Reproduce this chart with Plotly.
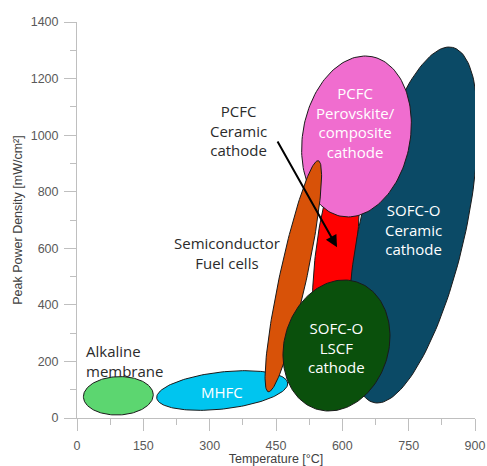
import numpy as np
import plotly.graph_objects as go

# ---- data (temperature °C, peak power density mW/cm²) ----
regions = ["PCFC Ceramic cathode", "SOFC-O Ceramic cathode", "MHFC",
           "PCFC Perovskite/composite cathode", "Semiconductor Fuel cells",
           "SOFC-O LSCF cathode", "Alkaline membrane"]
# major-axis end points of each region
T_start = [556.3, 671.6, 180.2, 597.0, 432.6, 541.3, 14.5]
P_start = [240.3, 54.4, 70.7, 713.1, 92.6, 31.5, 74.0]
T_end = [615.1, 849.0, 476.5, 667.0, 545.7, 632.2, 172.5]
P_end = [947.1, 1310.2, 123.7, 1277.4, 909.7, 481.2, 83.0]
# half width of each region (°C equivalent)
half_width = [45.0, 119.2, 41.8, 121.2, 30.5, 117.6, 43.4]
colors = ["#FF0000", "#0B4A66", "#00C5EF", "#F06DCF", "#D85208", "#0A500C", "#5CD670"]

x_ticks = [0, 150, 300, 450, 600, 750, 900]
y_ticks = [0, 200, 400, 600, 800, 1000, 1200, 1400]

# labels
label_text = ["Alkaline<br>membrane", "MHFC", "PCFC<br>Ceramic<br>cathode",
              "Semiconductor<br>Fuel cells", "PCFC<br>Perovskite/<br>composite<br>cathode",
              "SOFC-O<br>Ceramic<br>cathode", "SOFC-O<br>LSCF<br>cathode"]
label_T = [15.8, 327.9, 364.1, 339.7, 630.0, 759.8, 585.7]
label_P = [201.5, 91.9, 1015.4, 584.0, 1043.0, 664.7, 251.0]
label_color = ["#2b2b2b", "white", "#2b2b2b", "#2b2b2b", "white", "white", "white"]
label_anchor = ["left", "center", "center", "center", "center", "center", "center"]

arrow_from = (451.6, 982.8)
arrow_to = (588.0, 603.5)

# ---- layout geometry ----
W, H = 487, 466
ML, MR, MT, MB = 77, 12, 22, 48
plot_w, plot_h = W - ML - MR, H - MT - MB
T_RANGE, P_RANGE = 900.0, 1400.0
k = (P_RANGE / plot_h) / (T_RANGE / plot_w)


def ellipse(T1, P1, T2, P2, w, n=160):
    u1, v1, u2, v2 = T1, P1 / k, T2, P2 / k
    cu, cv = (u1 + u2) / 2, (v1 + v2) / 2
    a = np.hypot(u2 - u1, v2 - v1) / 2
    ang = np.arctan2(v2 - v1, u2 - u1)
    t = np.linspace(0, 2 * np.pi, n)
    x, y = a * np.cos(t), w * np.sin(t)
    u = cu + x * np.cos(ang) - y * np.sin(ang)
    v = cv + x * np.sin(ang) + y * np.cos(ang)
    return u, v * k


fig = go.Figure()
for i, name in enumerate(regions):
    xs, ys = ellipse(T_start[i], P_start[i], T_end[i], P_end[i], half_width[i])
    fig.add_trace(go.Scatter(x=xs, y=ys, mode="lines", fill="toself",
                             fillcolor=colors[i], line=dict(color="#1a1a1a", width=1),
                             name=name, hoverinfo="skip", showlegend=False))

for i, txt in enumerate(label_text):
    fig.add_annotation(x=label_T[i], y=label_P[i], text=txt, showarrow=False,
                       xanchor=label_anchor[i], align=label_anchor[i],
                       font=dict(family="Open Sans", size=15, color=label_color[i]))

fig.add_annotation(x=arrow_to[0], y=arrow_to[1], ax=arrow_from[0], ay=arrow_from[1],
                   xref="x", yref="y", axref="x", ayref="y", text="",
                   showarrow=True, arrowhead=2, arrowsize=1.2, arrowwidth=2,
                   arrowcolor="black")

axis_common = dict(showline=True, linecolor="#bfbfbf", linewidth=1, ticks="outside",
                   ticklen=12, tickcolor="#bfbfbf", tickwidth=1, showgrid=False,
                   zeroline=False, automargin=False,
                   tickfont=dict(family="Liberation Sans", size=12.5, color="#595959"))

fig.update_xaxes(range=[0, T_RANGE], tickvals=x_ticks, **axis_common,
                 minor=dict(dtick=75, ticks="outside", ticklen=6, tickcolor="#bfbfbf", showgrid=False),
                 ticklabelstandoff=4,
                 title=dict(text="Temperature [°C]", standoff=2,
                            font=dict(family="Liberation Sans", size=12.5, color="#404040")))
fig.update_yaxes(range=[0, P_RANGE], tickvals=y_ticks, **axis_common,
                 minor=dict(dtick=100, ticks="outside", ticklen=6, tickcolor="#bfbfbf", showgrid=False),
                 ticklabelstandoff=3,
                 title=dict(text="Peak Power Density [mW/cm²]", standoff=5,
                            font=dict(family="Liberation Sans", size=12.5, color="#404040")))

fig.update_layout(width=W, height=H, margin=dict(l=ML, r=MR, t=MT, b=MB),
                  plot_bgcolor="white", paper_bgcolor="white", showlegend=False)

fig.write_html("out.html", config={"displayModeBar": False},
               post_script="document.body.style.margin='0';document.body.style.overflow='hidden';")
